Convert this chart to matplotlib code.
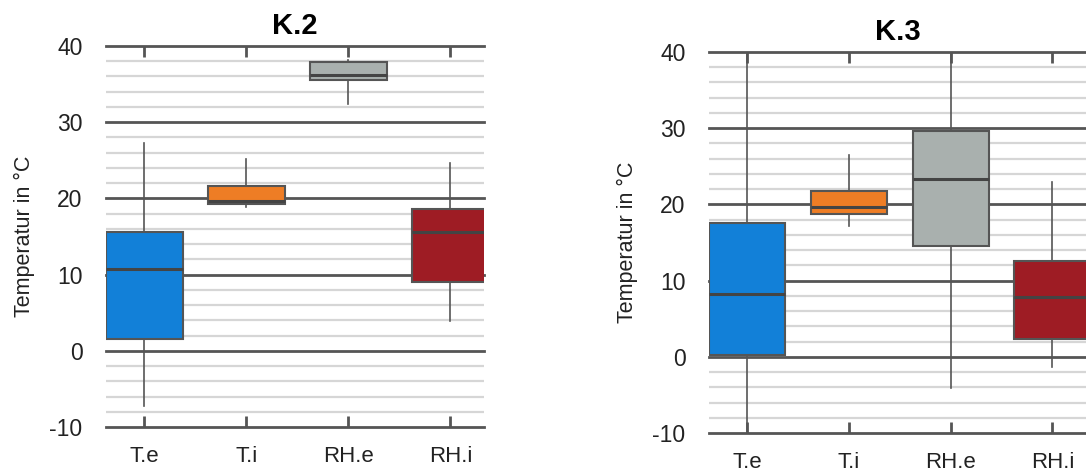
import numpy as np
import matplotlib
matplotlib.use("Agg")
import matplotlib.pyplot as plt
from matplotlib.ticker import MultipleLocator

plt.rcParams['font.family'] = ['Liberation Sans', 'DejaVu Sans']
plt.rcParams['axes.unicode_minus'] = False

categories = ["T.e", "T.i", "RH.e", "RH.i"]
box_colors = ["#1280d8", "#ee7d25", "#a9b0ae", "#9e1c24"]

# K.2 box statistics
k2_low = [-7.2, 18.9, 32.4, 3.9]
k2_q1 = [1.6, 19.3, 35.6, 9.0]
k2_med = [10.7, 19.7, 36.2, 15.6]
k2_q3 = [15.6, 21.6, 37.9, 18.6]
k2_high = [27.3, 25.2, 38.2, 24.6]

# K.3 box statistics
k3_low = [-10.5, 17.2, -4.1, -1.3]
k3_q1 = [0.3, 18.8, 14.5, 2.4]
k3_med = [8.2, 19.6, 23.3, 7.9]
k3_q3 = [17.6, 21.8, 29.6, 12.6]
k3_high = [40.5, 26.5, 40.5, 23.0]


def make_stats(low, q1, med, q3, high):
    return [dict(whislo=a, q1=b, med=c, q3=d, whishi=e, label=lab)
            for a, b, c, d, e, lab in zip(low, q1, med, q3, high, categories)]


def draw_panel(ax, stats, title):
    bp = ax.bxp(stats, positions=range(len(stats)), widths=0.75,
                patch_artist=True, showfliers=False, showcaps=False,
                boxprops=dict(edgecolor="#555555", linewidth=1.5),
                whiskerprops=dict(color="#555555", linewidth=1.2),
                medianprops=dict(color="#444444", linewidth=2.2))
    for patch, col in zip(bp['boxes'], box_colors):
        patch.set_facecolor(col)

    ax.set_ylim(-10, 40)
    ax.set_xlim(-0.375, 3.33)
    ax.yaxis.set_major_locator(MultipleLocator(10))
    ax.yaxis.set_minor_locator(MultipleLocator(2))
    ax.set_axisbelow(True)
    ax.grid(which='minor', axis='y', color='#d6d6d6', linewidth=1.6)
    ax.grid(which='major', axis='y', color='#555555', linewidth=2)
    for line in ax.get_ygridlines():
        line.set_clip_on(False)
    for s in ax.spines.values():
        s.set_visible(False)

    ax.tick_params(axis='y', which='both', length=0, labelsize=16.5,
                   labelcolor='#222222', pad=17)
    ax.tick_params(axis='x', which='major', direction='in', length=8,
                   width=2, color='#555555', top=True, bottom=True,
                   labelsize=16, labelcolor='#222222', pad=14)
    ax.set_xticks(range(len(categories)))
    ax.set_xticklabels(categories)
    ax.set_ylabel("Temperatur in °C", fontsize=15.5, color='#222222', labelpad=10)
    ax.set_title(title, fontsize=21, fontweight='bold', pad=9)


fig = plt.figure(figsize=(10.86, 4.72), dpi=100)
ax1 = fig.add_axes([0.0976, 0.0953, 0.3481, 0.8072])
ax2 = fig.add_axes([0.6529, 0.0826, 0.3471, 0.8072])

draw_panel(ax1, make_stats(k2_low, k2_q1, k2_med, k2_q3, k2_high), "K.2")
draw_panel(ax2, make_stats(k3_low, k3_q1, k3_med, k3_q3, k3_high), "K.3")

fig.savefig("out.png", dpi=100)
